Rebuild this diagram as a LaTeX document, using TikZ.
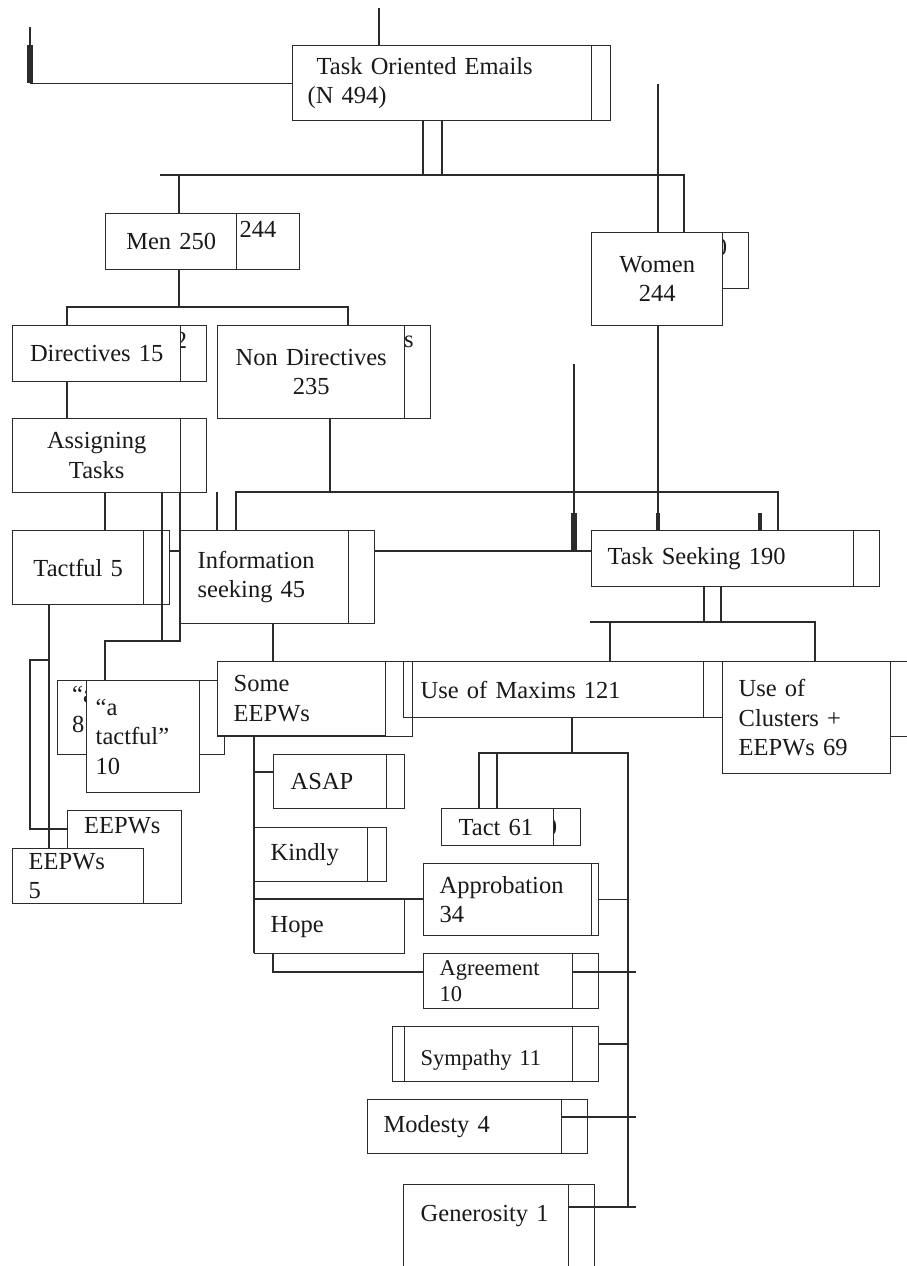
\documentclass[tikz,border=0pt]{standalone}
\usepackage{fontspec}
\setmainfont{Liberation Serif}
\definecolor{edge}{HTML}{2B2B2B}
\newcommand{\bigfs}{\fontsize{24.5}{29.5}\selectfont}
\newcommand{\smallfs}{\fontsize{22.5}{26}\selectfont}

\begin{document}
\begin{tikzpicture}[x=1pt, y=-1pt,
  box/.style={draw=edge, line width=1.4pt, fill=white, anchor=north west, inner ysep=0pt, inner xsep=16pt, align=left, font=\bigfs, text=black!90},
  ghost/.style={draw=edge, line width=1.4pt, anchor=north west, inner sep=0pt},
  gtext/.style={inner sep=0pt, font=\bigfs, text=black!90},
  link/.style={draw=edge, line width=1.4pt},
  tick/.style={draw=edge, line width=#1}
]
  \useasboundingbox[fill=white] (0,0) rectangle (906,1266);

  % boxes left behind
  \node[ghost, minimum width=318pt, minimum height=75pt] (gtoe) at (292,45) {};
  \node[ghost, minimum width=194pt, minimum height=56pt] (gmen) at (105,213) {};
  \node[ghost, minimum width=157pt, minimum height=56pt] (gwomen) at (591,232) {};
  \node[ghost, minimum width=194pt, minimum height=56pt] (gdir) at (12,325) {};
  \node[ghost, minimum width=213pt, minimum height=93pt] (gnondir) at (217,325) {};
  \node[ghost, minimum width=194pt, minimum height=74pt] (gassign) at (12,418) {};
  \node[ghost, minimum width=157pt, minimum height=74pt] (gtactful) at (12,530) {};
  \node[ghost, minimum width=194pt, minimum height=93pt] (ginfo) at (180,530) {};
  \node[ghost, minimum width=288pt, minimum height=56pt] (gseek) at (591,530) {};
  \node[ghost, minimum width=167pt, minimum height=74pt] (gatact) at (57,680) {};
  \node[ghost, minimum width=319pt, minimum height=56pt] (gmaxim) at (403,661) {};
  \node[ghost, minimum width=220pt, minimum height=75pt] (gclus) at (722,661) {};
  \node[ghost, minimum width=131pt, minimum height=54pt] (gasap) at (273,754) {};
  \node[ghost, minimum width=132pt, minimum height=54pt] (gkindly) at (254,827) {};
  \node[ghost, minimum width=139pt, minimum height=37pt] (gtact) at (441,808) {};
  \node[ghost, minimum width=175pt, minimum height=72pt] (gapprob) at (423,863) {};
  \node[ghost, minimum width=175pt, minimum height=55pt] (gagree) at (423,953) {};
  \node[ghost, minimum width=206pt, minimum height=55pt] (gsymp) at (392,1026) {};
  \node[ghost, minimum width=220pt, minimum height=54pt] (gmodesty) at (367,1099) {};
  \node[ghost, minimum width=191pt, minimum height=130pt] (ggener) at (403,1184) {};
  \node[ghost, minimum width=114pt, minimum height=93pt] (geepw) at (67,810) {};

  \node[gtext] (gmentxt) at (258,229) {244};
  \node[gtext] (gdirtxt) at (181,340) {2};
  \node[gtext] (gnontxt) at (409,342) {s};
  \node[gtext] (gwomtxt) at (721,247) {0};
  \node[gtext] (gtacttxt) at (551,827) {0};
  \node[gtext, anchor=north west, align=left] (gatxt) at (72,686) {“a\\8};
  \node[gtext, anchor=base west] (geetxt) at (84,833) {EEPWs};

  % junctions and loose ends
  \coordinate (topend) at (379,8);
  \coordinate (lstub) at (30,83);
  \coordinate (lstubtip) at (30,27);
  \coordinate (d1) at (423,175);
  \coordinate (d2) at (442,175);
  \coordinate (bus1L) at (160,175);
  \coordinate (bus1R) at (684,175);
  \coordinate (menT) at (179,175);
  \coordinate (wtop) at (658,84);
  \coordinate (wbot) at (658,325);
  \coordinate (wtick) at (658,513);
  \coordinate (bus2) at (179,307);
  \coordinate (bus2L) at (67,307);
  \coordinate (bus2R) at (348,307);
  \coordinate (bus3) at (330,492);
  \coordinate (bus3L) at (236,492);
  \coordinate (bus3R) at (778,492);
  \coordinate (stray) at (217,492);
  \coordinate (ctop) at (574,364);
  \coordinate (ctick) at (574,513);
  \coordinate (cbot) at (574,551);
  \coordinate (rtick) at (760,513);
  \coordinate (at1) at (105,641);
  \coordinate (at2) at (162,641);
  \coordinate (at3) at (180,641);
  \coordinate (tline) at (169,551);
  \coordinate (tb) at (49,660);
  \coordinate (tl) at (30,660);
  \coordinate (tl2) at (30,829);
  \coordinate (ib) at (273,640);
  \coordinate (s1) at (704,622);
  \coordinate (s2) at (721,622);
  \coordinate (bus4L) at (590,622);
  \coordinate (bus4a) at (610,622);
  \coordinate (bus4R) at (815,622);
  \coordinate (sv) at (254,772);
  \coordinate (hb) at (273,972);
  \coordinate (m1) at (572,753);
  \coordinate (t1) at (479,753);
  \coordinate (t2) at (497,753);
  \coordinate (mR) at (628,753);
  \coordinate (mB) at (628,1207);
  \coordinate (agR) at (636,972);
  \coordinate (syR) at (628,1044);
  \coordinate (moR) at (636,1117);
  \coordinate (geR) at (636,1207);

  % connectors
  \draw[link] (topend) -- (topend |- gtoe.north);
  \draw[link] (gtoe.west) -- (gtoe.west -| lstub);
  \draw[link] (lstubtip) -- (lstub |- gtoe.north);
  \draw[tick=6pt] (lstub |- gtoe.north) -- (lstub);
  \draw[link] (d1 |- gtoe.south) -- (d1);
  \draw[link] (d2 |- gtoe.south) -- (d2);
  \draw[link] (bus1L) -- (bus1R) -- (bus1R |- gwomen.north);
  \draw[link] (menT) -- (menT |- gmen.north);
  \draw[link] (wtop) -- (wtop |- gwomen.north);
  \draw[link] (wbot) -- (wtick);
  \draw[tick=3.5pt] (wtick) -- (wtick |- gseek.north);
  \draw[link] (bus2 |- gmen.south) -- (bus2);
  \draw[link] (bus2L |- gdir.north) -- (bus2L) -- (bus2R) -- (bus2R |- gnondir.north);
  \draw[link] (bus2L |- gdir.south) -- (bus2L |- gassign.north);
  \draw[link] (bus3 |- gnondir.south) -- (bus3);
  \draw[link] (bus3L |- ginfo.north) -- (bus3L) -- (bus3R) -- (bus3R |- gseek.north);
  \draw[link] (stray) -- (stray |- ginfo.north);
  \draw[link] (ctop) -- (ctick);
  \draw[tick=6pt] (ctick) -- (cbot);
  \draw[link] (cbot -| ginfo.east) -- (cbot -| gseek.west);
  \draw[tick=4pt] (rtick) -- (rtick |- gseek.north);
  \draw[link] (at1 |- gassign.south) -- (at1 |- gtactful.north);
  \draw[link] (at2 |- gassign.south) -- (at2);
  \draw[link] (at3 |- gassign.south) -- (at3) -- (at1) -- (at1 |- gatact.north);
  \draw[link] (tline) -- (tline -| ginfo.west);
  \draw[link] (tb |- gtactful.south) -- (tb |- 0,848);
  \draw[link] (tb) -- (tl) -- (tl2) -- (tl2 -| geepw.west);
  \draw[link] (ib |- ginfo.south) -- (ib |- gmaxim.north);
  \draw[link] (s1 |- gseek.south) -- (s1);
  \draw[link] (s2 |- gseek.south) -- (s2);
  \draw[link] (bus4L) -- (bus4R) -- (bus4R |- gclus.north);
  \draw[link] (bus4a) -- (bus4a |- gmaxim.north);
  \draw[link] (sv |- 0,735) -- (sv |- 0,953);
  \draw[link] (sv) -- (sv -| gasap.west);
  \draw[link] (gapprob.west |- 0,899) -- (sv |- 0,899);
  \draw[link] (hb |- 0,953) -- (hb) -- (hb -| gagree.west);
  \draw[link] (m1 |- gmaxim.south) -- (m1);
  \draw[link] (t1 |- gtact.north) -- (t1) -- (mR) -- (mB);
  \draw[link] (t2) -- (t2 |- gtact.north);
  \draw[link] (gapprob.east) -- (gapprob.east -| mR);
  \draw[link] (agR -| gagree.west) ++(149,0) -- (agR);
  \draw[link] (syR -| gsymp.east) -- (syR);
  \draw[link] (moR -| gmodesty.west) ++(194,0) -- (moR);
  \draw[link] (geR -| ggener.west) ++(165,0) -- (geR);

  % boxes in front
  \node[box, align=left, inner xsep=15pt, text width=269pt, minimum height=75pt] (toe) at (292,45) {\hspace{9pt}Task Oriented Emails\\(N 494)};
  \node[box, align=center, inner xsep=4pt, text width=123pt, minimum height=56pt] (men) at (105,213) {Men 250};
  \node[box, align=center, inner xsep=4pt, text width=123pt, minimum height=93pt] (women) at (591,232) {Women\\244};
  \node[box, align=center, inner xsep=4pt, text width=160pt, minimum height=56pt] (dir) at (12,325) {Directives 15};
  \node[box, align=center, inner xsep=4pt, text width=179pt, minimum height=93pt] (nondir) at (217,325) {Non Directives\\235};
  \node[box, align=center, inner xsep=4pt, text width=160pt, minimum height=74pt] (assign) at (12,418) {Assigning\\Tasks};
  \node[box, align=center, inner xsep=4pt, text width=123pt, minimum height=74pt] (tactful) at (12,530) {Tactful 5};
  \node[box, inner xsep=17pt, text width=134pt, minimum height=93pt] (info) at (180,530) {Information\\seeking 45};
  \node[box, text width=230pt, minimum height=56pt] (seek) at (591,530) {Task Seeking 190};
  \node[box, inner xsep=9pt, text width=95pt, minimum height=112pt] (atact) at (86,680) {“a\\tactful”\\10};
  \node[box, text width=136pt, minimum height=74pt] (some) at (217,661) {Some\\EEPWs};
  \node[box, inner xsep=17pt, text width=266pt, minimum height=56pt] (maxim) at (403,661) {Use of Maxims 121};
  \node[box, text width=136pt, minimum height=112pt] (clus) at (722,661) {Use of\\Clusters +\\EEPWs 69};
  \node[box, text width=99pt, minimum height=55pt] (eepw5) at (12,848) {EEPWs\\5};
  \node[box, inner xsep=17pt, text width=79pt, minimum height=54pt] (asap) at (273,754) {ASAP};
  \node[box, text width=81pt, minimum height=54pt] (kindly) at (254,827) {Kindly};
  \node[box, text width=118pt, minimum height=54pt] (hope) at (254,899) {Hope};
  \node[box, inner xsep=17pt, text width=78pt, minimum height=37pt] (tact) at (441,808) {Tact 61};
  \node[box, text width=136pt, minimum height=72pt] (approb) at (423,863) {Approbation\\34};
  \node[box, font=\smallfs, text width=117pt, minimum height=55pt] (agree) at (423,953) {Agreement\\10};
  \node[box, font=\smallfs, text width=136pt, minimum height=55pt, text height=22pt, text depth=0pt] (symp) at (404,1026) {Sympathy 11};
  \node[box, text width=162pt, minimum height=54pt] (modesty) at (367,1099) {Modesty 4};
  \node[box, inner xsep=17pt, inner ysep=17pt, text width=131pt, text height=20pt, text depth=70pt] (gener) at (403,1184) {Generosity 1};

  % left behind box showing through
  \node[ghost, minimum width=195pt, minimum height=75pt] (gsome) at (217,661) {};
\end{tikzpicture}
\end{document}
